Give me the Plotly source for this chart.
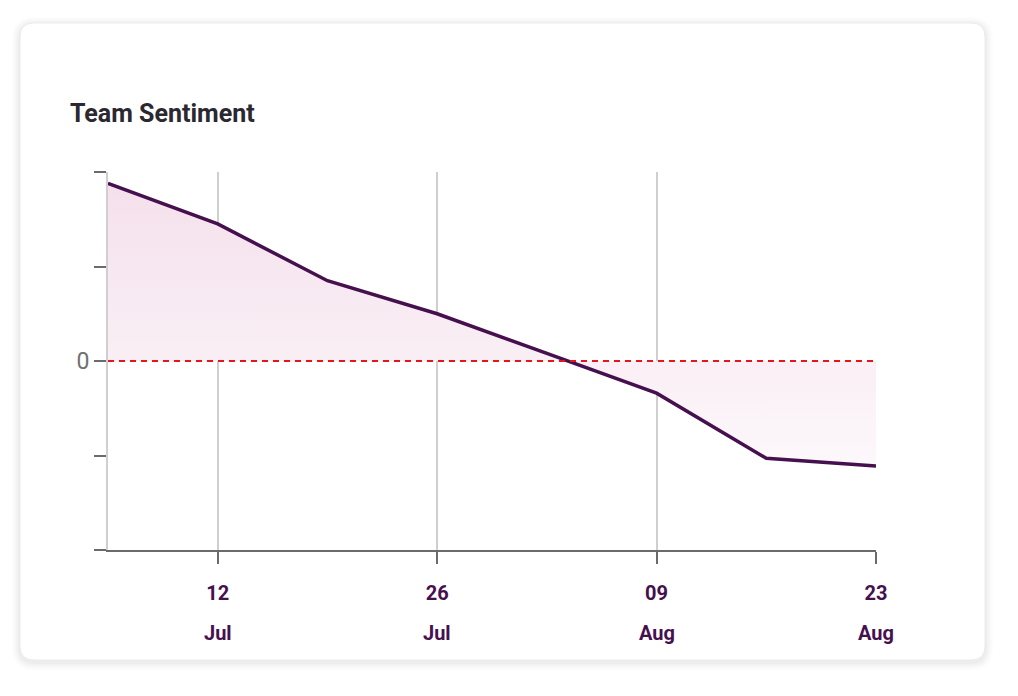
import plotly.graph_objects as go

# ---- data ----
dates = ["2024-07-05", "2024-07-12", "2024-07-19", "2024-07-26",
         "2024-08-02", "2024-08-09", "2024-08-16", "2024-08-23"]
sentiment = [1.88, 1.45, 0.85, 0.50, 0.08, -0.34, -1.03, -1.11]
tick_dates = ["2024-07-12", "2024-07-26", "2024-08-09", "2024-08-23"]
tick_days = ["12", "26", "09", "23"]
tick_months = ["Jul", "Jul", "Aug", "Aug"]
y_ticks = [-2, -1, 0, 1, 2]
y_ticktext = ["", "", "0", "", ""]
title_text = "Team Sentiment"

# ---- geometry (page has an 8px body margin) ----
OFF = 8
W, H = 1018, 696
PL, PR, PT, PB = 108 - OFF, 876 - OFF, 172 - OFF, 550 - OFF

def px_x(p):
    return (p - OFF - PL) / (PR - PL)

def px_y(p):
    return (PB - (p - OFF)) / (PB - PT)

def rounded_rect(x0, y0, x1, y1, r):
    X0, X1 = px_x(x0), px_x(x1)
    Y0, Y1 = px_y(y0), px_y(y1)
    rx = r / (PR - PL)
    ry = r / (PB - PT)
    return (f"M {X0+rx},{Y0} L {X1-rx},{Y0} Q {X1},{Y0} {X1},{Y0-ry} "
            f"L {X1},{Y1+ry} Q {X1},{Y1} {X1-rx},{Y1} L {X0+rx},{Y1} "
            f"Q {X0},{Y1} {X0},{Y1+ry} L {X0},{Y0-ry} Q {X0},{Y0} {X0+rx},{Y0} Z")

LINE = "#46104f"
FONT = "Roboto"

fig = go.Figure()
fig.add_trace(go.Scatter(
    x=dates, y=sentiment, mode="lines",
    line=dict(color=LINE, width=3.5),
    fill="tozeroy",
    fillgradient=dict(type="vertical", start=-2, stop=2,
                      colorscale=[[0, "#ffffff"], [1, "#f4dfeb"]]),
    hoverinfo="skip", showlegend=False,
))

shapes = []
# soft card shadow
for i, op in enumerate([0.012, 0.015, 0.018, 0.022]):
    g = 8 - i * 2
    shapes.append(dict(type="path", xref="paper", yref="paper", layer="below",
                       path=rounded_rect(20 - g, 23 - g + 2, 985 + g, 660 + g + 2, 14 + g),
                       fillcolor=f"rgba(0,0,0,{op})", line=dict(width=0)))
shapes.append(dict(type="path", xref="paper", yref="paper", layer="below",
                   path=rounded_rect(20, 23, 985, 660, 14),
                   fillcolor="#ffffff", line=dict(color="#ebebeb", width=1)))
# zero reference line
shapes.append(dict(type="line", xref="paper", yref="y", x0=0, x1=1, y0=0, y1=0,
                   line=dict(color="#e8141c", width=2, dash="6px,5px"), layer="above"))

annotations = [dict(text=f"<b>{title_text}</b>", xref="paper", yref="paper",
                    x=px_x(68), y=px_y(113), xanchor="left", yanchor="middle",
                    showarrow=False, font=dict(family=FONT, size=25, color="#2b2830"))]
for d, m in zip(tick_dates, tick_months):
    annotations.append(dict(text=f"<b>{m}</b>", x=d, xref="x", yref="paper", y=0,
                            yshift=-83, yanchor="middle", xanchor="center",
                            showarrow=False, font=dict(family=FONT, size=20, color=LINE)))

fig.update_layout(
    width=W, height=H,
    margin=dict(l=PL, r=W - PR, t=PT, b=H - PB),
    paper_bgcolor="#ffffff", plot_bgcolor="rgba(0,0,0,0)",
    shapes=shapes, annotations=annotations,
    xaxis=dict(type="date", range=[dates[0], dates[-1]],
               tickvals=tick_dates, ticktext=[f"<b>{d}</b>" for d in tick_days],
               tickfont=dict(family=FONT, size=20, color=LINE),
               ticks="outside", ticklen=12, tickwidth=2, tickcolor="#6b6b6b",
               ticklabelstandoff=12,
               showline=True, linecolor="#6b6b6b", linewidth=2,
               showgrid=True, gridcolor="#cfcfcf", gridwidth=2, zeroline=False),
    yaxis=dict(range=[-2, 2], tickvals=y_ticks, ticktext=y_ticktext,
               tickfont=dict(family=FONT, size=23, color="#707070"),
               ticks="outside", ticklen=12, tickwidth=2, tickcolor="#6b6b6b",
               showline=True, linecolor="#cfcfcf", linewidth=2,
               showgrid=False, zeroline=False),
)

fig.write_html("out.html")
